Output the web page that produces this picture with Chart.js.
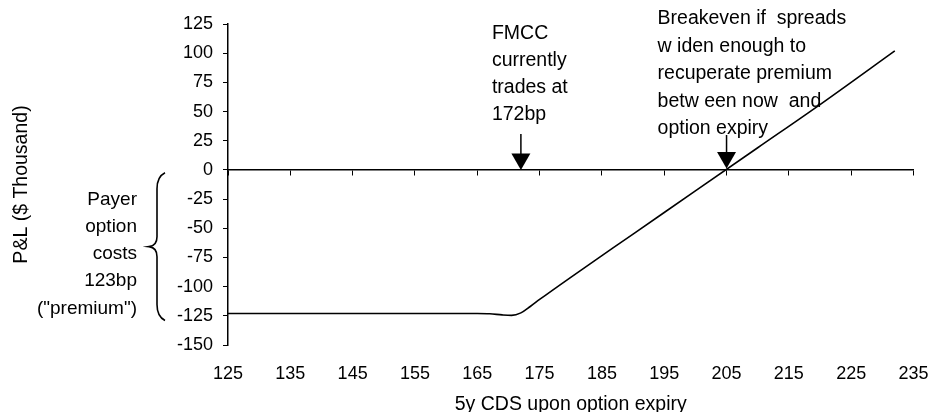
<!DOCTYPE html>
<html>
<head>
<meta charset="utf-8">
<script src="https://cdn.jsdelivr.net/npm/chart.js@4.4.1/dist/chart.umd.min.js"></script>
<style>
    html, body { margin: 0; padding: 0; background: #fff; }
    #wrap { width: 931px; height: 412px; }
</style>
</head>
<body>
<div id="wrap"><canvas id="pnlChart"></canvas></div>
<script>
// 5y CDS level at option expiry (bp)
const spreadBp = [125, 135, 145, 155, 165, 167, 169, 170.5, 172, 173.5, 175, 180, 190, 200, 210, 220, 232];
// payer option P&L ($ thousand)
const pnlThousand = [-123, -123, -123, -123, -123, -123.2, -124.2, -124.6, -122.5, -117, -111, -92, -55, -18, 19, 56, 102];

// axis ticks
const xTickValues = [125, 135, 145, 155, 165, 175, 185, 195, 205, 215, 225, 235];
const yTickValues = [-150, -125, -100, -75, -50, -25, 0, 25, 50, 75, 100, 125];

// annotation text
const currentSpread = 172;
const breakevenSpread = 205;
const currentNote = ['FMCC', 'currently', 'trades at', '172bp'];
const breakevenNote = ['Breakeven if  spreads', 'w iden enough to', 'recuperate premium', 'betw een now  and', 'option expiry'];
const premiumNote = ['Payer', 'option', 'costs', '123bp', '("premium")'];

const FONT = '"Liberation Sans", Arial, sans-serif';

function setTicks(values) {
    return function(scale) {
        scale.ticks = values.map(v => ({ value: v }));
    };
}

function drawArrow(ctx, px, yTop, yTip) {
    ctx.beginPath();
    ctx.moveTo(px, yTop);
    ctx.lineTo(px, yTip - 15);
    ctx.stroke();
    ctx.beginPath();
    ctx.moveTo(px - 9.5, yTip - 16.5);
    ctx.lineTo(px + 9.5, yTip - 16.5);
    ctx.lineTo(px, yTip);
    ctx.closePath();
    ctx.fill();
}

const notesPlugin = {
    id: 'notes',
    afterDraw(chart) {
        const { ctx, chartArea } = chart;
        const x = chart.scales.x;
        const y = chart.scales.y;
        const y0 = y.getPixelForValue(0);
        ctx.save();
        ctx.fillStyle = '#000';
        ctx.strokeStyle = '#000';
        ctx.lineWidth = 1.5;
        ctx.font = '19.5px ' + FONT;
        ctx.textBaseline = 'middle';

        // current spread note + arrow
        const pxNow = x.getPixelForValue(currentSpread);
        ctx.textAlign = 'left';
        currentNote.forEach((t, i) => ctx.fillText(t, pxNow - 29, 33.5 + i * 27));
        drawArrow(ctx, pxNow, 134, y0);

        // breakeven note + arrow
        const pxBe = x.getPixelForValue(breakevenSpread);
        breakevenNote.forEach((t, i) => ctx.fillText(t, pxBe - 69, 19 + i * 27.4));
        drawArrow(ctx, pxBe, 135, y0 - 1.5);

        // premium note with brace
        ctx.font = '19px ' + FONT;
        const bx = chartArea.left - 72;
        ctx.textAlign = 'right';
        premiumNote.forEach((t, i) => ctx.fillText(t, chartArea.left - 91, 199.5 + i * 27.25));

        const top = y.getPixelForValue(-2.5);
        const bot = y.getPixelForValue(-129);
        const mid = (top + bot) / 2;
        ctx.lineWidth = 1.6;
        ctx.beginPath();
        ctx.moveTo(bx + 9, top);
        ctx.quadraticCurveTo(bx + 1, top + 4, bx + 1, top + 16);
        ctx.lineTo(bx + 1, mid - 10);
        ctx.quadraticCurveTo(bx + 1, mid - 1, bx - 7, mid);
        ctx.quadraticCurveTo(bx + 1, mid + 1, bx + 1, mid + 10);
        ctx.lineTo(bx + 1, bot - 16);
        ctx.quadraticCurveTo(bx + 1, bot - 4, bx + 9, bot);
        ctx.stroke();
        ctx.restore();
    }
};

new Chart(document.getElementById('pnlChart'), {
    type: 'line',
    data: {
        datasets: [{
            data: spreadBp.map((s, i) => ({ x: s, y: pnlThousand[i] })),
            borderColor: '#000',
            borderWidth: 1.6,
            pointRadius: 0,
            fill: false,
            cubicInterpolationMode: 'monotone',
            xAxisID: 'x',
            yAxisID: 'y'
        }]
    },
    options: {
        responsive: true,
        maintainAspectRatio: false,
        animation: false,
        devicePixelRatio: 1,
        layout: { padding: { top: 24, right: 17.5, bottom: 0, left: 0 } },
        plugins: {
            legend: { display: false },
            tooltip: { enabled: false }
        },
        scales: {
            x: {
                type: 'linear',
                position: 'bottom',
                min: 125,
                max: 235,
                afterBuildTicks: setTicks(xTickValues),
                afterFit: s => { s.height = 67; },
                // invisible tick marks only push the labels down
                grid: {
                    display: true,
                    drawOnChartArea: false,
                    drawTicks: true,
                    tickLength: 18,
                    color: 'rgba(0,0,0,0)'
                },
                border: { display: false },
                ticks: {
                    color: '#000',
                    font: { size: 18, family: FONT },
                    padding: 0,
                    maxRotation: 0
                },
                title: {
                    display: true,
                    text: '5y CDS upon option expiry',
                    color: '#000',
                    font: { size: 19.5, family: FONT },
                    padding: { top: 0, bottom: -4 }
                }
            },
            xZero: {
                type: 'linear',
                position: { y: 0 },
                min: 125,
                max: 235,
                afterBuildTicks: setTicks(xTickValues),
                grid: {
                    drawOnChartArea: false,
                    drawTicks: true,
                    tickLength: 5,
                    color: '#000',
                    lineWidth: 1
                },
                border: { display: true, color: '#000', width: 1.5 },
                ticks: { display: false }
            },
            y: {
                type: 'linear',
                position: 'left',
                min: -150,
                max: 125,
                afterBuildTicks: setTicks(yTickValues),
                afterFit: s => { s.width = 228; },
                grid: {
                    drawOnChartArea: false,
                    drawTicks: true,
                    tickLength: 5,
                    color: '#000',
                    lineWidth: 1
                },
                border: { display: true, color: '#000', width: 1.5 },
                ticks: {
                    color: '#000',
                    font: { size: 18, family: FONT },
                    padding: 10
                },
                title: {
                    display: true,
                    text: 'P&L ($ Thousand)',
                    color: '#000',
                    font: { size: 19.5, family: FONT },
                    padding: { top: 10, bottom: 0 }
                }
            }
        }
    },
    plugins: [notesPlugin]
});
</script>
</body>
</html>
